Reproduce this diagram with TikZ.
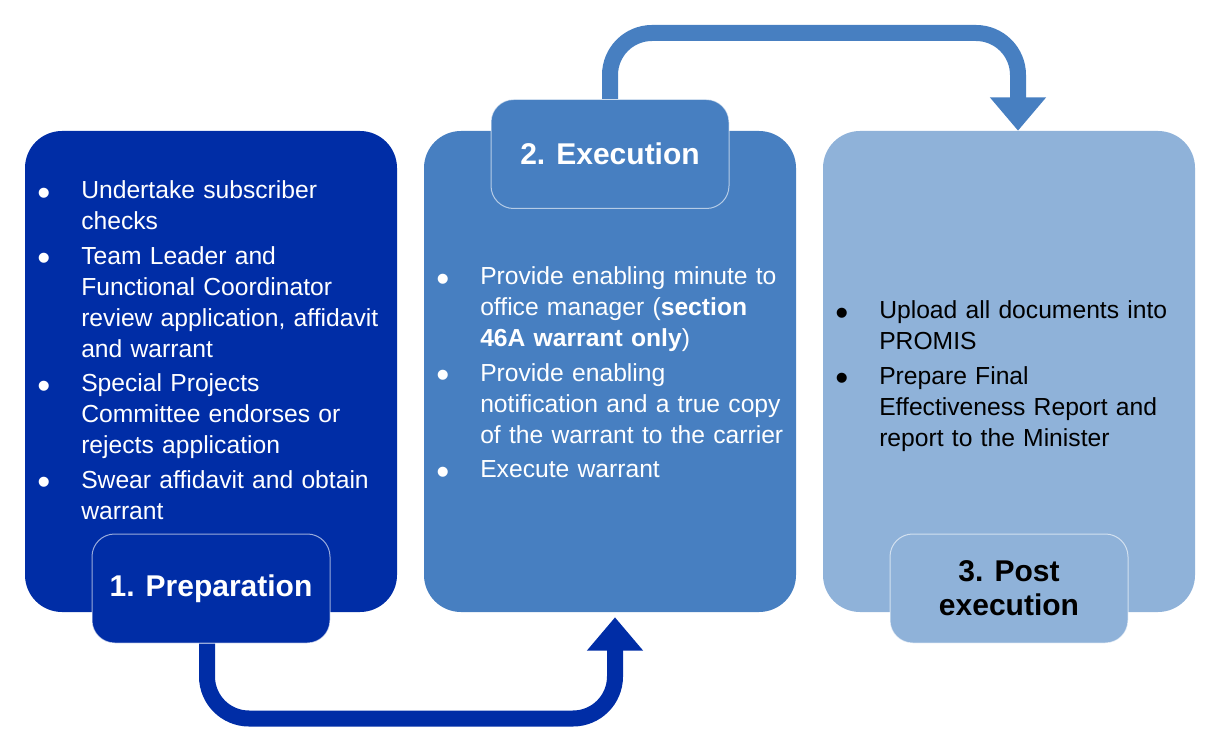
\documentclass[tikz,border=0pt]{standalone}
\usepackage{fontspec}
\setmainfont{Liberation Sans}
\usetikzlibrary{arrows.meta}
\definecolor{prepblue}{RGB}{0,45,166}
\definecolor{execblue}{RGB}{71,127,193}
\definecolor{postblue}{RGB}{143,178,217}
\newcommand{\bitem}{\noindent\hangindent=33pt\hangafter=1\makebox[33pt][l]{\raisebox{-4.8pt}{\scalebox{1.5}{\textbullet}}}}
\tikzset{
    bigbox/.style={rectangle, rounded corners=27.75pt, minimum width=279pt, minimum height=360.75pt, inner sep=0pt},
    stagebox/.style={rectangle, rounded corners=17pt, minimum width=178.5pt, minimum height=81.75pt,
                     draw=white, draw opacity=0.6, line width=0.75pt, align=center,
                     font=\fontsize{22.5pt}{25.5pt}\selectfont\bfseries},
    bullets/.style={anchor=base west, inner sep=0pt, text width=270pt, align=left,
                    font=\fontsize{18.5pt}{23.25pt}\selectfont,
                    execute at begin node={\setlength{\parskip}{2.6pt}}},
    flow/.style={line width=12pt, rounded corners=31.5pt, -{Triangle[width=40.5pt,length=25pt]}}
}

\begin{document}
\begin{tikzpicture}[x=0.75pt,y=-0.75pt]
    \useasboundingbox (0,0) rectangle (1221,752);
    \foreach \n/\x/\c in {prep/211/prepblue, exec/610/execblue, post/1009/postblue}
	\node[bigbox, fill=\c] (\n) at (\x,371.5) {};
    \node[bullets, text=white] (preptext) at (37,199) {%
        \bitem Undertake subscriber\newline checks\par
        \bitem Team Leader and\newline Functional Coordinator\newline review application, affidavit\newline and warrant\par
        \bitem Special Projects\newline Committee endorses or\newline rejects application\par
        \bitem Swear affidavit and obtain\newline warrant\par};
    \node[bullets, text=white] (exectext) at (436,285) {%
        \bitem Provide enabling minute to\newline office manager (\textbf{section\newline 46A warrant only})\par
        \bitem Provide enabling\newline notification and a true copy\newline of the warrant to the carrier\par
        \bitem Execute warrant\par};
    \node[bullets, text=black] (posttext) at (835,319) {%
        \bitem Upload all documents into\newline PROMIS\par
        \bitem Prepare Final\newline Effectiveness Report and\newline report to the Minister\par};
    \node[stagebox, fill=prepblue, text=white] (lab1) at (211,588.5) {1. Preparation};
    \node[stagebox, fill=execblue, text=white] (lab2) at (610,154) {2. Execution};
    \node[stagebox, fill=postblue, text=black] (lab3) at (1009,588.5) {3. Post\\execution};
    \draw[flow, prepblue] ([xshift=-3pt]lab1.south) -- ++(0,75) -| ([xshift=3.75pt,yshift=-3.75pt]exec.south);
    \draw[flow, execblue] (lab2.north) -- ++(0,-66) -| ([xshift=6.75pt]post.north);
\end{tikzpicture}
\end{document}
